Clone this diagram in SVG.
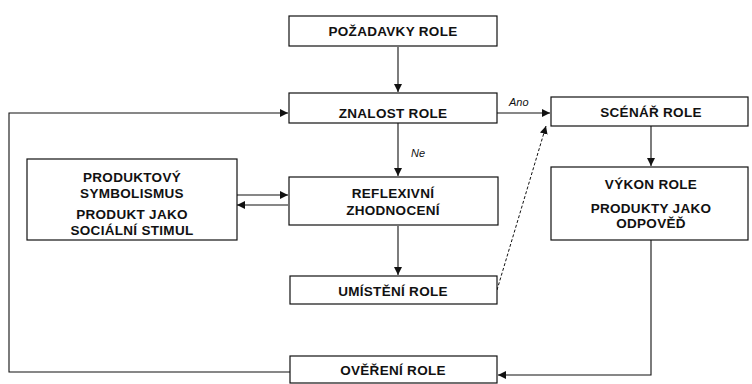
<svg xmlns="http://www.w3.org/2000/svg" width="752" height="384" viewBox="0 0 752 384">
<style>
.box{fill:#fff;stroke:#111;stroke-width:1.2}
.t{font-family:"Liberation Sans",Arial,sans-serif;font-weight:bold;font-size:13.5px;letter-spacing:0.3px;fill:#111;text-anchor:middle}
.lbl{font-family:"Liberation Sans",Arial,sans-serif;font-style:italic;font-size:11px;fill:#111}
.c{fill:none;stroke:#111;stroke-width:1.1}
.d{fill:none;stroke:#111;stroke-width:1;stroke-dasharray:3,2}
</style>
<defs>
<marker id="ah" viewBox="0 0 10 10" refX="10" refY="5" markerWidth="8" markerHeight="8" markerUnits="userSpaceOnUse" orient="auto">
<path d="M0,0 L10,5 L0,10 z" fill="#111"/>
</marker>
</defs>
<rect width="752" height="384" fill="#fff"/>
<g id="connectors">
<line class="c" x1="398" y1="47" x2="398" y2="92" marker-end="url(#ah)"/>
<line class="c" x1="497" y1="113" x2="550" y2="113" marker-end="url(#ah)"/>
<text class="lbl" x="509" y="106">Ano</text>
<line class="c" x1="398" y1="123" x2="398" y2="176" marker-end="url(#ah)"/>
<text class="lbl" x="411" y="157">Ne</text>
<line class="c" x1="398" y1="226" x2="398" y2="275" marker-end="url(#ah)"/>
<line class="c" x1="237" y1="195" x2="288" y2="195" marker-end="url(#ah)"/>
<line class="c" x1="288" y1="205" x2="237" y2="205" marker-end="url(#ah)"/>
<line class="d" x1="497" y1="290" x2="546" y2="126" marker-end="url(#ah)"/>
<line class="c" x1="651" y1="126" x2="651" y2="166" marker-end="url(#ah)"/>
<polyline class="c" points="651,240 651,375 498,375" marker-end="url(#ah)"/>
<polyline class="c" points="290,372 9,372 9,113 288,113" marker-end="url(#ah)"/>
</g>
<g id="pozadavky">
<rect class="box" x="289" y="16" width="208" height="30"/>
<text class="t" x="393" y="36">POŽADAVKY ROLE</text>
</g>
<g id="znalost">
<rect class="box" x="289" y="93" width="208" height="30"/>
<text class="t" x="393" y="118">ZNALOST ROLE</text>
</g>
<g id="scenar">
<rect class="box" x="551" y="97" width="197" height="29"/>
<text class="t" x="651" y="117">SCÉNÁŘ ROLE</text>
</g>
<g id="vykon">
<rect class="box" x="551" y="167" width="197" height="73"/>
<text class="t" x="651" y="189">VÝKON ROLE</text>
<text class="t" x="651" y="213">PRODUKTY JAKO</text>
<text class="t" x="651" y="228">ODPOVĚĎ</text>
</g>
<g id="produktovy">
<rect class="box" x="27" y="159" width="210" height="81"/>
<text class="t" x="132" y="182">PRODUKTOVÝ</text>
<text class="t" x="132" y="198">SYMBOLISMUS</text>
<text class="t" x="132" y="219">PRODUKT JAKO</text>
<text class="t" x="132" y="235">SOCIÁLNÍ STIMUL</text>
</g>
<g id="reflexivni">
<rect class="box" x="289" y="177" width="209" height="48"/>
<text class="t" x="393" y="198">REFLEXIVNÍ</text>
<text class="t" x="393" y="215">ZHODNOCENÍ</text>
</g>
<g id="umisteni">
<rect class="box" x="290" y="276" width="207" height="28"/>
<text class="t" x="393" y="296">UMÍSTĚNÍ  ROLE</text>
</g>
<g id="overeni">
<rect class="box" x="290" y="356" width="207" height="27"/>
<text class="t" x="393" y="375">OVĚŘENÍ ROLE</text>
</g>
</svg>
